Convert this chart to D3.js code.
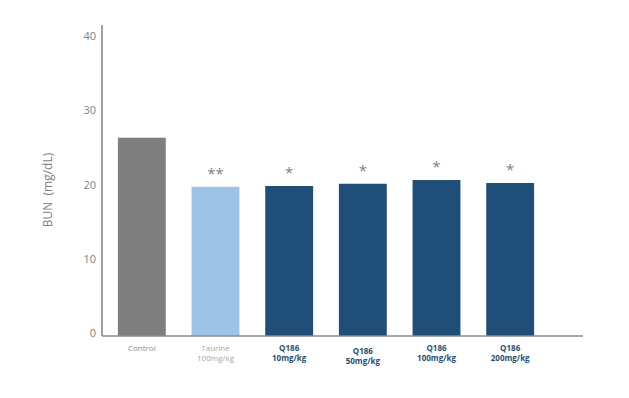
<!DOCTYPE html>
<html><head><meta charset="utf-8">
<script src="https://cdn.jsdelivr.net/npm/d3@7"></script>
<style>body{margin:0;background:#fff}svg{display:block}text{font-family:"Open Sans","Noto Sans",sans-serif}</style>
</head><body><svg id="c" width="629" height="398"></svg>
<script>
const categories = ["Control", "Taurine", "Q186 10", "Q186 50", "Q186 100", "Q186 200"];
const labelLine1 = ["Control", "Taurine", "Q186", "Q186", "Q186", "Q186"];
const labelLine2 = ["", "100mg/kg", "10mg/kg", "50mg/kg", "100mg/kg", "200mg/kg"];
const values = [26.3, 19.7, 19.8, 20.1, 20.6, 20.2];
const significance = ["", "**", "*", "*", "*", "*"];
const yTicks = [0, 10, 20, 30, 40];
const barColors = ["#7f7f7f", "#9dc3e6", "#1f4e79", "#1f4e79", "#1f4e79", "#1f4e79"];
const labelColors = ["#8c8c8c", "#a6a6a6", "#1f4e79", "#1f4e79", "#1f4e79", "#1f4e79"];
const labelWeights = ["normal", "normal", "bold", "bold", "bold", "bold"];

const svg = d3.select("#c");
const baseY = 336;
const y = d3.scaleLinear().domain([0, 40]).range([333, 36]);
const x = d3.scaleBand().domain(categories).range([105, 547]).paddingInner(0.35).paddingOuter(0.175);

// bars
svg.selectAll("rect.bar").data(values).join("rect")
  .attr("x", (d, i) => x(categories[i]))
  .attr("width", x.bandwidth())
  .attr("y", d => y(d))
  .attr("height", d => baseY - y(d))
  .attr("fill", (d, i) => barColors[i]);

// significance marks
svg.selectAll("text.sig").data(values).join("text")
  .attr("x", (d, i) => x(categories[i]) + x.bandwidth() / 2)
  .attr("y", d => y(d) - 8)
  .attr("text-anchor", "middle")
  .attr("font-size", 15)
  .attr("fill", "#7f7f7f")
  .text((d, i) => significance[i]);

// y axis
const yAxis = d3.axisLeft(y).tickValues(yTicks).tickSize(0).tickPadding(6);
const gy = svg.append("g").attr("transform", "translate(102,0)").call(yAxis);
gy.select(".domain").remove();
gy.selectAll("text").attr("fill", "#7f7f7f").attr("font-size", 11)
  .attr("font-family", '"Open Sans","Noto Sans",sans-serif');
svg.append("line").attr("x1", 102).attr("x2", 102).attr("y1", 25).attr("y2", baseY)
  .attr("stroke", "#808080").attr("stroke-width", 1.5);
svg.append("line").attr("x1", 102).attr("x2", 583).attr("y1", baseY).attr("y2", baseY)
  .attr("stroke", "#8c8c8c").attr("stroke-width", 1.5);

// category labels
const gl = svg.selectAll("g.lab").data(categories).join("g")
  .attr("transform", (d, i) => `translate(${x(d) + x.bandwidth() / 2},${i === 3 ? 354 : 351})`);
gl.append("text").attr("text-anchor", "middle").attr("font-size", 8)
  .attr("fill", (d, i) => labelColors[i]).attr("font-weight", (d, i) => labelWeights[i])
  .text((d, i) => labelLine1[i]);
gl.append("text").attr("text-anchor", "middle").attr("font-size", 8).attr("y", 9.5)
  .attr("fill", (d, i) => labelColors[i]).attr("font-weight", (d, i) => labelWeights[i])
  .text((d, i) => labelLine2[i]);

// y title
svg.append("text").attr("transform", "translate(52,190) rotate(-90)")
  .attr("text-anchor", "middle").attr("font-size", 12).attr("fill", "#7f7f7f")
  .attr("xml:space", "preserve")
  .text("BUN  (mg/dL)");
</script></body></html>
